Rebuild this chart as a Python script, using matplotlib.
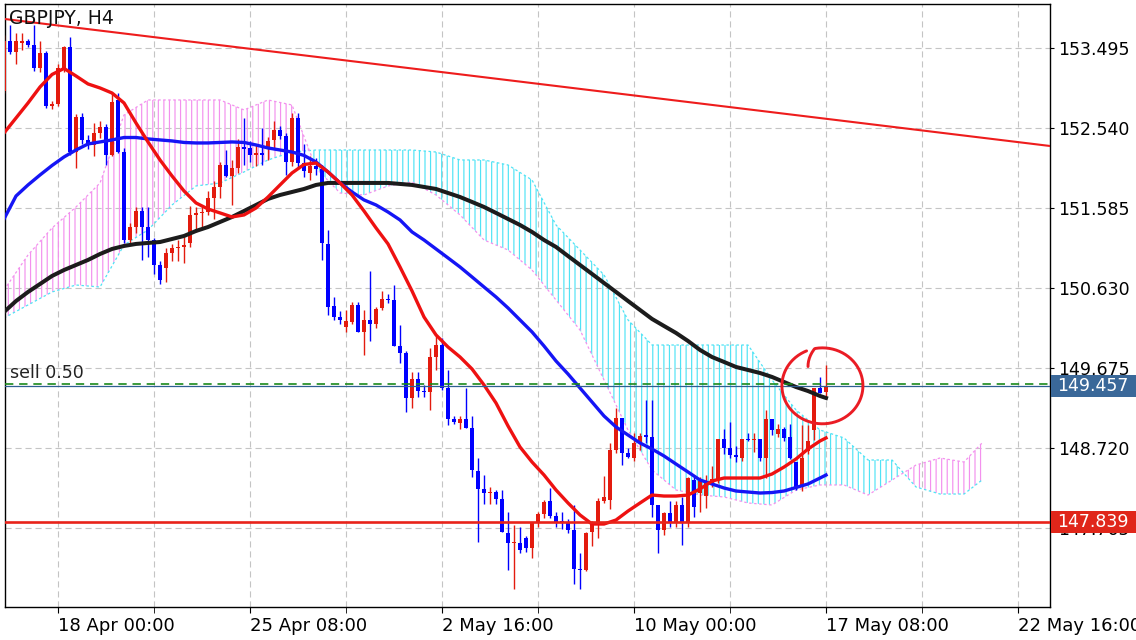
import numpy as np
import matplotlib
matplotlib.use("Agg")
import matplotlib.pyplot as plt
from matplotlib.patches import Rectangle
from matplotlib.transforms import blended_transform_factory

plt.rcParams['font.family'] = ['DejaVu Sans']
plt.rcParams['hatch.linewidth'] = 0.85

# ---------------- data ----------------
title_text = "GBPJPY, H4"
# bar index 0 = 18 Apr 00:00 (one step = one H4 bar)
first_bar = -9
opens = [152.98, 153.57, 153.44, 153.55, 153.57, 153.53, 153.25, 153.43, 152.80, 152.82,
         153.25, 153.50, 152.25, 152.67, 152.39, 152.33, 152.48, 152.55, 152.21, 152.87,
         152.25, 151.20, 151.36, 151.55, 151.36, 151.20, 150.90, 150.86, 151.05, 151.10,
         151.12, 151.16, 151.50, 151.52, 151.54, 151.70, 151.83, 152.10, 151.96, 152.06,
         152.31, 152.30, 152.21, 152.24, 152.30, 152.39, 152.51, 152.44, 152.13, 152.65,
         152.12, 152.00, 152.08, 152.05, 151.15, 150.41, 150.28, 150.16, 150.22, 150.42,
         150.10, 150.25, 150.20, 150.39, 150.50, 150.48, 149.93, 149.85, 149.32, 149.54,
         149.40, 149.39, 149.80, 149.95, 149.43, 149.07, 149.02, 149.07, 148.96, 148.44,
         148.23, 148.18, 148.19, 148.11, 147.70, 147.58, 147.59, 147.64, 147.52, 147.82,
         147.93, 148.08, 147.91, 147.84, 147.83, 147.74, 147.28, 147.26, 147.71, 147.82,
         148.08, 148.10, 148.69, 149.08, 148.66, 148.60, 148.78, 148.87, 148.85, 148.04,
         147.74, 147.94, 147.82, 148.04, 147.82, 148.34, 148.18, 148.15, 148.30, 148.35,
         148.82, 148.72, 148.63, 148.60, 148.82, 148.81, 148.82, 148.60, 149.06, 148.89,
         148.95, 148.85, 148.55, 148.25, 148.68, 148.93, 149.43, 149.39]
highs = [153.65, 153.76, 153.67, 153.67, 153.60, 153.77, 153.58, 153.45, 152.86, 153.30,
         153.52, 153.62, 152.70, 152.72, 152.45, 152.60, 152.62, 152.58, 152.95, 152.95,
         152.30, 151.40, 151.59, 151.59, 151.59, 151.22, 150.95, 151.10, 151.15, 151.20,
         151.23, 151.60, 151.59, 151.62, 151.79, 151.90, 152.13, 152.27, 152.15, 152.40,
         152.66, 152.38, 152.35, 152.54, 152.43, 152.62, 152.56, 152.48, 152.72, 152.72,
         152.35, 152.20, 152.18, 152.10, 151.32, 150.52, 150.35, 150.37, 150.46, 150.46,
         150.37, 150.83, 150.40, 150.59, 150.55, 150.66, 150.18, 149.87, 149.62, 149.62,
         149.47, 149.91, 150.06, 150.03, 149.65, 149.10, 149.10, 149.44, 149.10, 148.60,
         148.40, 148.25, 148.22, 148.22, 147.95, 147.80, 147.78, 147.67, 147.84, 147.95,
         148.10, 148.24, 147.95, 147.95, 147.87, 148.04, 147.46, 147.72, 147.85, 148.12,
         148.38, 148.78, 149.19, 149.08, 148.72, 148.90, 148.90, 149.29, 149.29, 148.04,
         147.96, 148.09, 148.09, 148.13, 148.37, 148.37, 148.37, 148.40, 148.50, 148.82,
         148.95, 149.03, 148.74, 148.82, 148.90, 148.90, 148.82, 149.17, 149.07, 149.00,
         148.97, 149.01, 148.55, 148.99, 148.99, 149.43, 149.56, 149.71]
lows = [152.95, 153.42, 153.30, 153.47, 153.50, 153.22, 153.20, 152.78, 152.76, 152.80,
        153.20, 152.22, 152.06, 152.35, 152.28, 152.20, 152.42, 152.10, 152.20, 152.24,
        151.17, 151.14, 151.28, 150.96, 151.00, 150.80, 150.68, 150.70, 150.95, 150.95,
        150.92, 151.12, 151.30, 151.35, 151.50, 151.45, 151.70, 151.95, 151.62, 152.00,
        152.10, 152.13, 152.08, 152.09, 152.15, 152.30, 152.41, 151.98, 152.08, 152.05,
        151.95, 151.92, 151.98, 150.96, 150.30, 150.25, 150.20, 150.10, 150.20, 150.10,
        149.83, 150.00, 150.15, 150.37, 150.45, 149.94, 149.73, 149.15, 149.19, 149.33,
        149.33, 149.17, 149.65, 149.41, 148.99, 149.00, 148.95, 148.96, 148.37, 147.60,
        148.05, 148.05, 148.05, 147.72, 147.26, 147.04, 147.47, 147.48, 147.40, 147.77,
        147.88, 147.88, 147.77, 147.75, 147.70, 147.10, 147.04, 147.25, 147.55, 147.65,
        148.06, 147.99, 148.66, 148.52, 148.60, 148.56, 148.70, 148.78, 147.90, 147.47,
        147.68, 147.78, 147.78, 147.56, 147.78, 147.90, 147.95, 148.00, 148.25, 148.30,
        148.65, 148.60, 148.55, 148.56, 148.80, 148.67, 148.56, 148.36, 148.87, 148.85,
        148.80, 148.59, 148.22, 148.20, 148.65, 148.81, 149.37, 149.30]
closes = [153.57, 153.44, 153.57, 153.57, 153.53, 153.25, 153.43, 152.80, 152.82, 153.25,
          153.50, 152.25, 152.67, 152.39, 152.33, 152.48, 152.55, 152.21, 152.85, 152.25,
          151.20, 151.35, 151.55, 151.36, 151.20, 150.90, 150.72, 151.05, 151.10, 151.12,
          151.14, 151.50, 151.52, 151.54, 151.70, 151.83, 152.10, 151.96, 152.06, 152.31,
          152.29, 152.22, 152.24, 152.22, 152.38, 152.51, 152.44, 152.13, 152.65, 152.12,
          152.02, 152.08, 152.05, 151.16, 150.40, 150.28, 150.24, 150.23, 150.42, 150.10,
          150.25, 150.20, 150.38, 150.50, 150.48, 149.94, 149.85, 149.32, 149.54, 149.40,
          149.39, 149.80, 149.95, 149.43, 149.07, 149.03, 149.07, 148.96, 148.45, 148.23,
          148.18, 148.19, 148.11, 147.72, 147.58, 147.59, 147.50, 147.52, 147.82, 147.93,
          148.07, 147.91, 147.84, 147.83, 147.74, 147.28, 147.26, 147.70, 147.82, 148.08,
          148.13, 148.69, 149.08, 148.66, 148.61, 148.78, 148.86, 148.85, 148.04, 147.74,
          147.94, 147.82, 148.04, 147.82, 148.36, 148.01, 148.33, 148.30, 148.35, 148.82,
          148.72, 148.63, 148.61, 148.82, 148.81, 148.83, 148.60, 149.06, 148.93, 148.95,
          148.84, 148.60, 148.25, 148.60, 148.80, 149.43, 149.38, 149.45]

# moving averages, sampled every 2 bars (bar index, price)
ma_idx = list(range(-9, 128, 2)) + [128]
ma_fast = [152.477, 152.656, 152.835, 153.026, 153.175, 153.247, 153.157, 153.062, 153.014, 152.954,
           152.835, 152.596, 152.370, 152.155, 151.964, 151.785, 151.642, 151.570, 151.523, 151.475,
           151.499, 151.582, 151.713, 151.857, 152.000, 152.101, 152.119, 152.012, 151.881, 151.737,
           151.546, 151.344, 151.153, 150.878, 150.592, 150.281, 150.067, 149.923, 149.804, 149.661,
           149.470, 149.255, 148.981, 148.730, 148.551, 148.396, 148.217, 148.062, 147.919, 147.811,
           147.811, 147.859, 147.966, 148.062, 148.157, 148.145, 148.145, 148.157, 148.229, 148.324,
           148.360, 148.360, 148.360, 148.360, 148.408, 148.491, 148.587, 148.706, 148.802, 148.838]
ma_mid = [151.451, 151.725, 151.857, 151.976, 152.089, 152.191, 152.274, 152.346, 152.370, 152.394,
          152.423, 152.423, 152.406, 152.394, 152.382, 152.364, 152.358, 152.358, 152.364, 152.370,
          152.364, 152.334, 152.298, 152.274, 152.250, 152.209, 152.131, 152.012, 151.881, 151.773,
          151.678, 151.618, 151.534, 151.439, 151.296, 151.200, 151.093, 150.986, 150.878, 150.759,
          150.639, 150.520, 150.389, 150.246, 150.103, 149.935, 149.756, 149.601, 149.434, 149.267,
          149.100, 148.969, 148.873, 148.778, 148.706, 148.623, 148.527, 148.432, 148.336, 148.289,
          148.241, 148.205, 148.193, 148.181, 148.187, 148.205, 148.247, 148.289, 148.360, 148.396]
ma_slow = [150.341, 150.472, 150.580, 150.675, 150.771, 150.842, 150.902, 150.962, 151.033, 151.093,
           151.129, 151.153, 151.165, 151.176, 151.212, 151.248, 151.308, 151.355, 151.415, 151.475,
           151.546, 151.618, 151.690, 151.737, 151.773, 151.809, 151.857, 151.881, 151.881, 151.881,
           151.881, 151.881, 151.881, 151.869, 151.857, 151.833, 151.809, 151.761, 151.713, 151.654,
           151.594, 151.523, 151.451, 151.379, 151.296, 151.200, 151.117, 151.009, 150.902, 150.795,
           150.687, 150.580, 150.472, 150.365, 150.258, 150.174, 150.091, 149.995, 149.888, 149.804,
           149.745, 149.685, 149.649, 149.613, 149.566, 149.506, 149.446, 149.398, 149.339, 149.315]

# Ichimoku cloud (Senkou span A / B), shifted 26 bars forward
cloud_idx = [-9, -5, -1, 3, 7, 11, 15, 19, 23, 27, 31, 35, 39, 43, 47, 51, 55, 59, 63, 67,
             71, 75, 79, 83, 87, 91, 95, 99, 103, 107, 111, 115, 119, 123, 127, 131, 135,
             139, 143, 147, 151, 154]
span_a = [150.270, 150.425, 150.580, 150.663, 150.639, 151.141, 151.320, 151.618, 151.845,
          151.880, 152.012, 152.155, 152.250, 152.274, 152.274, 152.274, 152.274, 152.274,
          152.250, 152.155, 152.155, 152.095, 151.916, 151.379, 151.081, 150.783, 150.246,
          149.947, 149.947, 149.947, 149.947, 149.947, 149.530, 149.172, 148.933, 148.838,
          148.575, 148.575, 148.253, 148.169, 148.169, 148.336]
span_b = [150.604, 151.021, 151.343, 151.594, 151.880, 152.692, 152.871, 152.871, 152.871,
          152.871, 152.752, 152.871, 152.811, 152.059, 151.761, 151.737, 151.845, 151.892,
          151.737, 151.499, 151.200, 151.081, 150.842, 150.484, 150.126, 149.530, 148.933,
          148.456, 148.217, 148.157, 148.134, 148.062, 148.038, 148.217, 148.277, 148.277,
          148.157, 148.336, 148.515, 148.599, 148.551, 148.778]

# drawn objects
trend_idx = [-9, 166]
trend_price = [153.838, 152.316]
support_level = 147.839
bid_price = 149.457
sell_price = 149.48
sell_label = "sell 0.50"
mark_center = (127.4, 149.46)
mark_radius = (6.75, 0.453)

# axes
price_ticks = [153.495, 152.540, 151.585, 150.630, 149.675, 148.720, 147.765]
date_tick_idx = [0, 32, 64, 96, 128, 160]
date_tick_labels = ["18 Apr 00:00", "25 Apr 08:00", "2 May 16:00", "10 May 00:00",
                    "17 May 08:00", "22 May 16:00"]
minor_tick_idx = [16, 48, 80, 112, 144]

# ---------------- styling ----------------
BULL = '#e31b0e'
BEAR = '#0000ff'
CYAN = '#4fe3f5'
PINK = '#f391ee'
GRID = '#c4c4c4'

W, H = 1136, 640
fig = plt.figure(figsize=(W / 100, H / 100), dpi=100)
ax = fig.add_axes([4.5 / W, 1 - 607 / H, (1050 - 4.5) / W, (607 - 4) / H])
ax.set_facecolor('white')
ax.set_xlim(-8.92, 165.33)
ax.set_ylim(146.821, 154.016)

# grid
for p in price_ticks:
    ax.axhline(p, color=GRID, lw=0.8, dashes=(5.5, 3.5), zorder=0.5)
for t in date_tick_idx + minor_tick_idx:
    ax.axvline(t, color=GRID, lw=0.8, dashes=(5.5, 3.5), zorder=0.5)

# cloud
ci = np.array(cloud_idx, float)
a = np.array(span_a)
b = np.array(span_b)
ax.fill_between(ci, a, b, where=a >= b, interpolate=True, facecolor='none',
                edgecolor=CYAN, hatch='|||', linewidth=0, zorder=1)
ax.fill_between(ci, a, b, where=a < b, interpolate=True, facecolor='none',
                edgecolor=PINK, hatch='|||', linewidth=0, zorder=1)
ax.plot(ci, a, color=CYAN, lw=0.9, dashes=(2, 2), zorder=1.2)
ax.plot(ci, b, color=PINK, lw=0.9, dashes=(2, 2), zorder=1.2)

# trend line and levels
ax.plot(trend_idx, trend_price, color='#ee1c1c', lw=1.5, zorder=7)
ax.axhline(support_level, color='#e8231a', lw=1.9, zorder=7)
ax.axhline(sell_price, color='#1b8a1b', lw=1.2, dashes=(5, 3.5), zorder=7)
ax.axhline(bid_price, color='#2f5f92', lw=0.9, zorder=7)

# candles
o = np.array(opens); h = np.array(highs); l = np.array(lows); c = np.array(closes)
x = np.arange(first_bar, first_bar + len(o))
cols = np.where(c >= o, BULL, BEAR)
ax.vlines(x, l, h, colors=cols, lw=1.0, zorder=4)
ax.bar(x, np.maximum(np.abs(c - o), 0.014), bottom=np.minimum(o, c), width=0.8,
       color=cols, linewidth=0, zorder=5)

# moving averages
ax.plot(ma_idx, ma_slow, color='#1c1c1c', lw=2.9, zorder=6, solid_joinstyle='round')
ax.plot(ma_idx, ma_mid, color='#1515f5', lw=2.4, zorder=6.1, solid_joinstyle='round')
ax.plot(ma_idx, ma_fast, color='#ee1111', lw=2.4, zorder=6.2, solid_joinstyle='round')

# hand-drawn circle mark
cx, cy = mark_center
rx, ry = mark_radius
t0 = np.deg2rad(125)
t = np.linspace(t0, t0 - np.deg2rad(372), 300)
r = np.clip(0.62 + (t0 - t) / np.deg2rad(24) * 0.38, 0, 1)
ax.plot(cx + rx * r * np.cos(t), cy + ry * r * np.sin(t), color='#ea1c24', lw=2.1,
        zorder=8, solid_capstyle='round')

# title and order label
ax.text(0.004, 1 - 14 / 603, title_text, transform=ax.transAxes,
        fontsize=13.5, va='center', ha='left', color='#111111', zorder=9)
ax.text(-8.0, sell_price + 0.03, sell_label, fontsize=12.5, va='bottom', ha='left',
        color='#222222', zorder=9)

# axes cosmetics
for s in ['left', 'right', 'bottom', 'top']:
    ax.spines[s].set_color('black')
    ax.spines[s].set_linewidth(1.0)
ax.yaxis.tick_right()
ax.set_yticks(price_ticks)
ax.set_yticklabels([f"{p:.3f}" for p in price_ticks])
ax.tick_params(axis='y', which='major', length=3, pad=3, labelsize=12.5, colors='black')
ax.set_xticks(date_tick_idx)
ax.set_xticklabels(date_tick_labels)
ax.set_xticks(minor_tick_idx, minor=True)
ax.tick_params(axis='x', which='both', length=4, pad=3, labelsize=13, colors='black',
               direction='out')
for lab in ax.get_xticklabels():
    lab.set_ha('left')

# price boxes on the right axis
bt = blended_transform_factory(fig.transFigure, ax.transData)
box_h = 22 / 83.8
for price, colr in [(bid_price, '#3a6899'), (support_level, '#e0261a')]:
    fig.add_artist(Rectangle((1051 / W, price - box_h / 2), 85 / W, box_h, transform=bt,
                             facecolor=colr, edgecolor='none', zorder=20))
    fig.text(1057 / W, price, f"{price:.3f}", transform=bt, color='white', fontsize=12.5,
             va='center', ha='left', zorder=21)

fig.savefig('out.png', dpi=100)
